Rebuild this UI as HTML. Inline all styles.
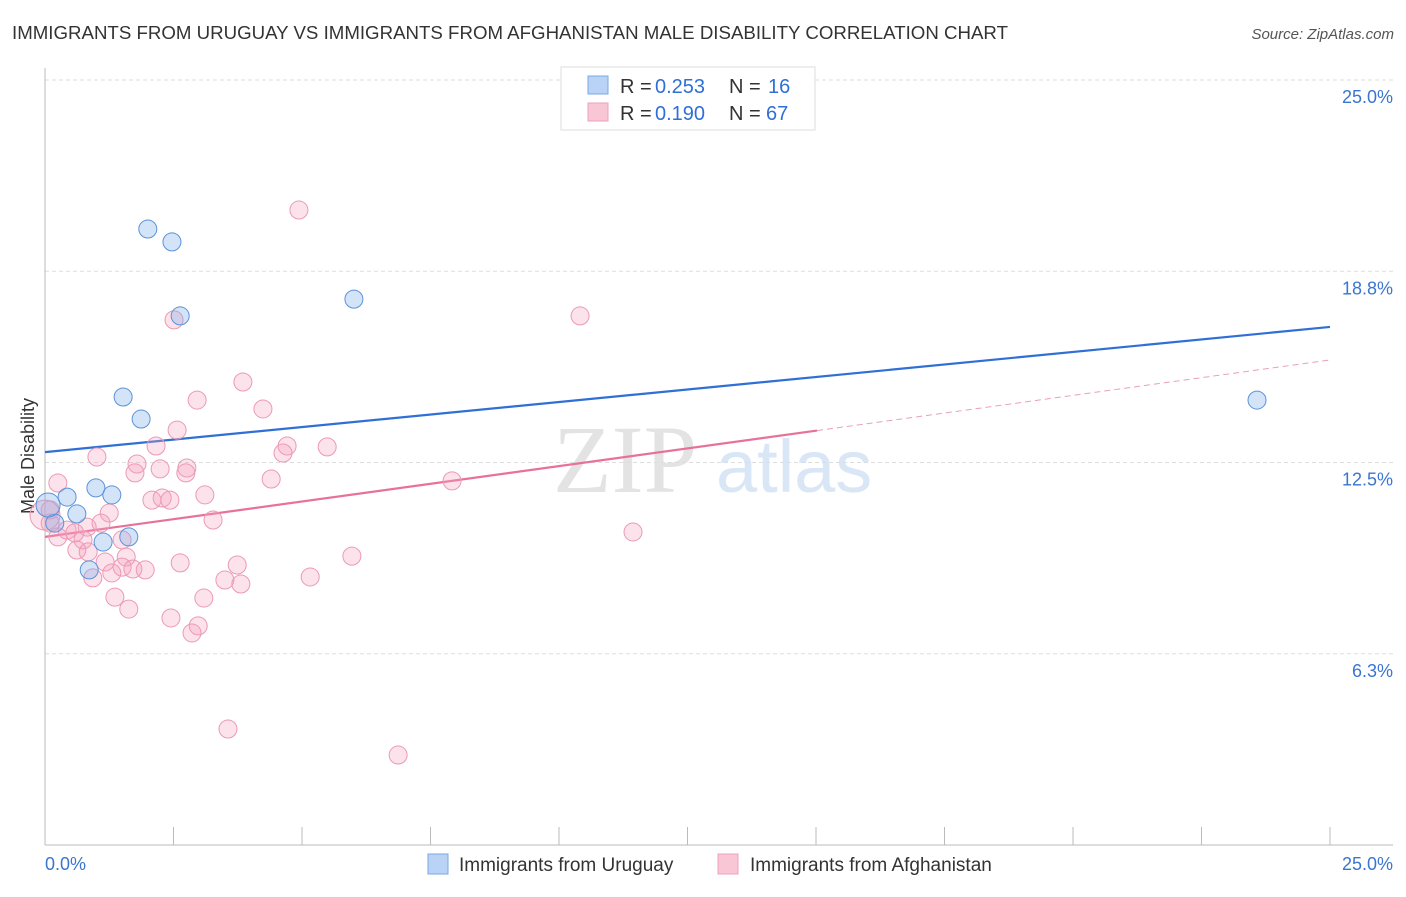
<!DOCTYPE html>
<html><head><meta charset="utf-8"><style>
body{margin:0;background:#fff;font-family:"Liberation Sans",sans-serif;}
</style></head><body>
<svg width="1406" height="892" xmlns="http://www.w3.org/2000/svg" font-family="Liberation Sans, sans-serif">
<text x="12" y="39" font-size="18.5" fill="#333" textLength="996" lengthAdjust="spacingAndGlyphs">IMMIGRANTS FROM URUGUAY VS IMMIGRANTS FROM AFGHANISTAN MALE DISABILITY CORRELATION CHART</text>
<text x="1394" y="39" font-size="15" fill="#555" font-style="italic" text-anchor="end">Source: ZipAtlas.com</text>
<g id="grid"></g>
<text x="553" y="492" font-size="96" font-family="Liberation Serif, serif" fill="#ddd" opacity="0.8">ZIP</text>
<text x="716" y="492" font-size="74" fill="#cfe0f3" opacity="0.8">atlas</text>
<text transform="translate(34,456) rotate(-90)" font-size="18" fill="#333" text-anchor="middle">Male Disability</text>
<g id="lines"></g>
<g id="pts"></g>
<g>
<rect x="561" y="67" width="254" height="63" fill="#fff" stroke="#ddd"/>
<rect x="588" y="76" width="20" height="18" fill="#b8d3f5" stroke="#7aa8e3"/>
<rect x="588" y="103" width="20" height="18" fill="#f9c6d6" stroke="#eda0ba"/>
<text x="620" y="93" font-size="20" fill="#333">R =</text>
<text x="655" y="93" font-size="20" fill="#2f6fd6">0.253</text>
<text x="729" y="93" font-size="20" fill="#333">N =</text>
<text x="768" y="93" font-size="20" fill="#2f6fd6">16</text>
<text x="620" y="120" font-size="20" fill="#333">R =</text>
<text x="655" y="120" font-size="20" fill="#2f6fd6">0.190</text>
<text x="729" y="120" font-size="20" fill="#333">N =</text>
<text x="766" y="120" font-size="20" fill="#2f6fd6">67</text>
</g>
<g>
<rect x="428" y="854" width="20" height="20" fill="#b8d3f5" stroke="#7aa8e3"/>
<text x="459" y="871" font-size="19" fill="#333">Immigrants from Uruguay</text>
<rect x="718" y="854" width="20" height="20" fill="#f9c6d6" stroke="#eda0ba"/>
<text x="750" y="871" font-size="19" fill="#333">Immigrants from Afghanistan</text>
</g>
</svg>
<script>
const yTicks=[25,18.75,12.5,6.25];
const yTickLabels=["25.0%","18.8%","12.5%","6.3%"];
const xTicks=[0,2.5,5,7.5,10,12.5,15,17.5,20,22.5,25];
const blueX=[2.00,2.47,2.63,6.01,1.52,1.87,0.99,0.43,1.30,0.62,1.13,1.63,0.86,0.19,0.06,23.58];
const blueY=[20.13,19.71,17.29,17.84,14.64,13.92,11.67,11.37,11.44,10.82,9.90,10.07,8.99,10.52,11.11,14.54];
const pinkX=[3.85,2.96,4.24,2.57,2.16,4.71,4.63,5.49,1.01,1.79,1.75,2.24,2.76,2.74,4.40,0.25,2.08,2.28,2.43,3.11,1.25,3.27,1.09,0.10,0.10,0.25,0.43,0.58,0.74,0.82,1.50,0.62,0.84,1.17,1.58,1.50,1.71,1.95,1.30,0.93,2.63,3.74,3.50,3.81,5.16,5.97,1.36,3.09,1.63,2.45,2.98,2.86,4.94,10.41,11.44,7.92,3.56,6.87,2.51,0.0];
const pinkY=[15.13,14.54,14.25,13.56,13.04,13.04,12.81,13.01,12.68,12.45,12.16,12.29,12.32,12.16,11.96,11.83,11.27,11.34,11.27,11.44,10.85,10.62,10.52,10.95,10.52,10.07,10.29,10.20,9.97,10.39,9.97,9.64,9.58,9.25,9.41,9.08,9.02,8.99,8.89,8.73,9.22,9.15,8.66,8.53,8.76,9.44,8.10,8.07,7.71,7.42,7.16,6.93,20.75,17.29,10.23,11.90,3.79,2.94,17.16,10.78];
const blueTrend=[12.84,16.93];
const pinkTrend=[10.07,15.85];
const pinkSolidEnd=15.02;
const NS="http://www.w3.org/2000/svg";
const X=v=>45+v*51.4, Y=v=>845-v*30.6;
function mk(t,a,p){const e=document.createElementNS(NS,t);for(const k in a)e.setAttribute(k,a[k]);p.appendChild(e);return e;}
const grid=document.getElementById('grid');
yTicks.forEach((t,i)=>{
 const l=mk('line',{x1:45,x2:1393,y1:Y(t),y2:Y(t),stroke:'#ddd','stroke-dasharray':'4,3'},grid);
 
 
 const tx=mk('text',{x:1393,y:Y(t)+23,'font-size':18,fill:'#3a75d0','text-anchor':'end'},grid);
 tx.textContent=yTickLabels[i];
 
 
});
const ax=mk('line',{x1:45,x2:45,y1:68,y2:845,stroke:'#bbb'},grid);


const bx=mk('line',{x1:45,x2:1393,y1:845,y2:845,stroke:'#bbb'},grid);


xTicks.forEach(t=>{const l=mk('line',{x1:X(t),x2:X(t),y1:827,y2:845,stroke:'#bbb'},grid);
 
 });
[[0,'0.0%','start',45],[25,'25.0%','end',1393]].forEach(d=>{const tx=mk('text',{x:d[3],y:870,'font-size':18,fill:'#3a75d0','text-anchor':d[2]},grid);tx.textContent=d[1];
 
 });
const lines=document.getElementById('lines');
const b=mk('line',{x1:X(0),y1:Y(blueTrend[0]),x2:X(25),y2:Y(blueTrend[1]),stroke:'#2f6fd6','stroke-width':2.2},lines);


const pAt=v=>pinkTrend[0]+(pinkTrend[1]-pinkTrend[0])*v/25;
const p1=mk('line',{x1:X(0),y1:Y(pAt(0)),x2:X(pinkSolidEnd),y2:Y(pAt(pinkSolidEnd)),stroke:'#e8719a','stroke-width':2.2},lines);


const p2=mk('line',{x1:X(pinkSolidEnd),y1:Y(pAt(pinkSolidEnd)),x2:X(25),y2:Y(pAt(25)),stroke:'#e8a0b8','stroke-width':1,'stroke-dasharray':'6,4'},lines);


const pts=document.getElementById('pts');
pinkX.forEach((x,i)=>{const c=mk('circle',{cx:X(x),cy:Y(pinkY[i]),r:(i==pinkX.length-1)?15:9,fill:'rgba(244,160,188,0.3)',stroke:'#eb9ab5','stroke-width':1},pts);
 
 });
blueX.forEach((x,i)=>{const c=mk('circle',{cx:X(x),cy:Y(blueY[i]),r:(i==14)?12:9,fill:'rgba(130,175,235,0.35)',stroke:'#5b93d9','stroke-width':1},pts);
 
 });
</script>
</body></html>
